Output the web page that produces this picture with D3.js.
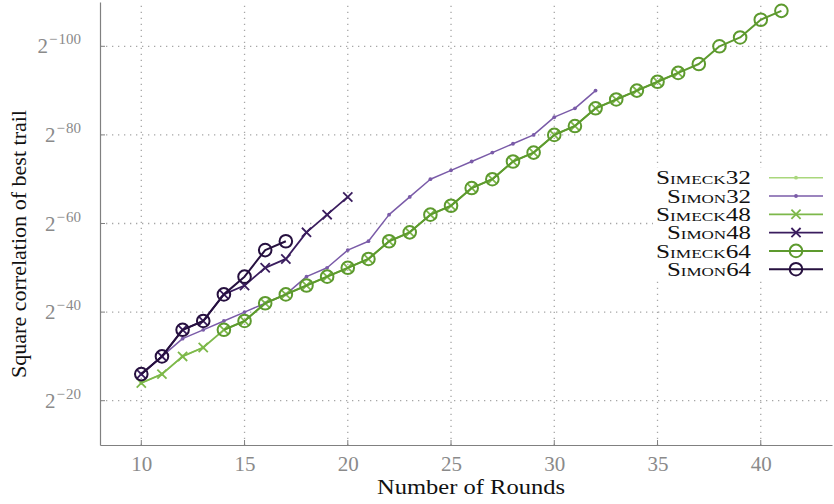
<!DOCTYPE html>
<html><head><meta charset="utf-8">
<script src="https://cdn.jsdelivr.net/npm/d3@7"></script>
<style>
body{margin:0;background:#fff;}
svg{display:block;font-family:"Liberation Serif","DejaVu Serif",serif;}
</style></head><body>
<svg id="c" width="834" height="504"></svg>
<script>
// values are exponents n, meaning a square correlation of 2^-n
const simeck32Rounds = [10,11,12,13];
const simeck32Vals = [24,26,30,32];
const simon32Rounds = d3.range(10, 33);
const simon32Vals = [26,30,34,36,38,40,42,44,48,50,54,56,62,66,70,72,74,76,78,80,84,86,90];
const simeck48Rounds = d3.range(10, 37);
const simeck48Vals = [24,26,30,32,36,38,42,44,46,48,50,52,56,58,62,64,68,70,74,76,80,82,86,88,90,92,94];
const simon48Rounds = d3.range(10, 21);
const simon48Vals = [26,30,36,38,44,46,50,52,58,62,66];
const simeck64Rounds = d3.range(14, 42);
const simeck64Vals = [36,38,42,44,46,48,50,52,56,58,62,64,68,70,74,76,80,82,86,88,90,92,94,96,100,102,106,108];
const simon64Rounds = d3.range(10, 18);
const simon64Vals = [26,30,36,38,44,48,54,56];
const xTicks = [10,15,20,25,30,35,40];
const yTicks = [20,40,60,80,100];
const seriesNames = ["Simeck32","Simon32","Simeck48","Simon48","Simeck64","Simon64"];
const seriesColors = ["#a9d77c","#7a5ba8","#7db84a","#3a1d5e","#5d9a2e","#26103f"];
const seriesMarkers = ["dot","dot","cross","cross","circle","circle"];
const seriesWidths = [1.5,1.5,1.8,1.8,2,2];

const zipSeries = (rs, vs) => rs.map((r,i)=>({x:r, y:vs[i]}));
const seriesData = [
  zipSeries(simeck32Rounds, simeck32Vals),
  zipSeries(simon32Rounds, simon32Vals),
  zipSeries(simeck48Rounds, simeck48Vals),
  zipSeries(simon48Rounds, simon48Vals),
  zipSeries(simeck64Rounds, simeck64Vals),
  zipSeries(simon64Rounds, simon64Vals)
];

const svg = d3.select("#c");
const x = d3.scaleLinear().domain([8, 43.45]).range([100, 832]);
const y = d3.scaleLinear().domain([10, 110]).range([445, 2]);

// grid
const grid = svg.append("g");
grid.selectAll(".vx").data(xTicks).join("line")
  .attr("x1",d=>x(d)).attr("x2",d=>x(d)).attr("y1",445).attr("y2",2)
  .attr("stroke","#a6a6a6").attr("stroke-width",1.3).attr("stroke-dasharray","1.3,4.7");
grid.selectAll(".hy").data(yTicks).join("line")
  .attr("y1",d=>y(d)).attr("y2",d=>y(d)).attr("x1",100).attr("x2",832)
  .attr("stroke","#a6a6a6").attr("stroke-width",1.3).attr("stroke-dasharray","1.3,4.7");

// axes
const xAxis = svg.append("g").attr("transform","translate(0,445)")
  .call(d3.axisBottom(x).tickValues(xTicks).tickSize(0).tickPadding(11).tickFormat(d3.format("d")));
xAxis.select(".domain").attr("stroke","#808080").attr("stroke-width",1.2);
xAxis.selectAll("text").attr("fill","#8a8a8a").attr("font-size","21px").attr("font-family","Liberation Serif, serif");
svg.append("g").selectAll("line").data(xTicks).join("line")
  .attr("x1",d=>x(d)).attr("x2",d=>x(d)).attr("y1",445).attr("y2",440)
  .attr("stroke","#808080").attr("stroke-width",1);

const yAxis = svg.append("g").attr("transform","translate(100,0)")
  .call(d3.axisLeft(y).tickValues(yTicks).tickSize(0).tickFormat(""));
yAxis.select(".domain").attr("stroke","#808080").attr("stroke-width",1.2);
svg.append("g").selectAll("line").data(yTicks).join("line")
  .attr("x1",100).attr("x2",105).attr("y1",d=>y(d)).attr("y2",d=>y(d))
  .attr("stroke","#808080").attr("stroke-width",1);
const yl = svg.append("g").selectAll("text").data(yTicks).join("text")
  .attr("x",81).attr("y",d=>y(d)+7).attr("text-anchor","end").attr("fill","#8a8a8a")
  .attr("font-size","21px");
yl.append("tspan").text("2");
yl.append("tspan").attr("dy",-9).attr("dx",1).attr("font-size","15px").attr("textLength",15).text("\u2212");
yl.append("tspan").attr("dx",1).attr("font-size","15px").text(d=>d);

// titles
svg.append("text").attr("x",471).attr("y",494).attr("text-anchor","middle")
  .attr("font-size","20.5px").attr("fill","#111").attr("textLength",188).attr("lengthAdjust","spacingAndGlyphs")
  .text("Number of Rounds");
svg.append("text").attr("transform","translate(26,244) rotate(-90)").attr("text-anchor","middle")
  .attr("font-size","20.5px").attr("fill","#111").attr("textLength",268).attr("lengthAdjust","spacingAndGlyphs")
  .text("Square correlation of best trail");

// series
const line = d3.line().x(d=>x(d.x)).y(d=>y(d.y));
function marker(g, type, color, cx, cy){
  if(type==="dot"){
    g.append("circle").attr("cx",cx).attr("cy",cy).attr("r",1.9).attr("fill",color);
  } else if(type==="cross"){
    const s=4.6;
    g.append("path").attr("d",`M${cx-s},${cy-s}L${cx+s},${cy+s}M${cx-s},${cy+s}L${cx+s},${cy-s}`)
      .attr("stroke",color).attr("stroke-width",1.8).attr("fill","none");
  } else {
    g.append("circle").attr("cx",cx).attr("cy",cy).attr("r",6.3).attr("fill","none")
      .attr("stroke",color).attr("stroke-width",2);
  }
}
seriesData.forEach((data,i)=>{
  const g = svg.append("g");
  g.append("path").datum(data).attr("d",line).attr("fill","none")
    .attr("stroke",seriesColors[i]).attr("stroke-width",seriesWidths[i]).attr("stroke-linejoin","round");
  data.forEach(d=>marker(g, seriesMarkers[i], seriesColors[i], x(d.x), y(d.y)));
});

// legend
const lg = svg.append("g");
lg.append("rect").attr("x",653).attr("y",168).attr("width",179).attr("height",110).attr("fill","#fff");
seriesNames.forEach((name,i)=>{
  const yy = 177.7 + i*18.3;
  lg.append("text").attr("x",751).attr("y",yy+6.6).attr("text-anchor","end")
    .attr("font-size","19px").attr("fill","#111").style("font-variant","small-caps")
    .attr("textLength", name.startsWith("Simeck") ? 95 : 84).attr("lengthAdjust","spacingAndGlyphs")
    .text(name);
  lg.append("line").attr("x1",769).attr("x2",823).attr("y1",yy).attr("y2",yy)
    .attr("stroke",seriesColors[i]).attr("stroke-width",seriesWidths[i]);
  marker(lg, seriesMarkers[i], seriesColors[i], 796, yy);
});
</script>
</body></html>
